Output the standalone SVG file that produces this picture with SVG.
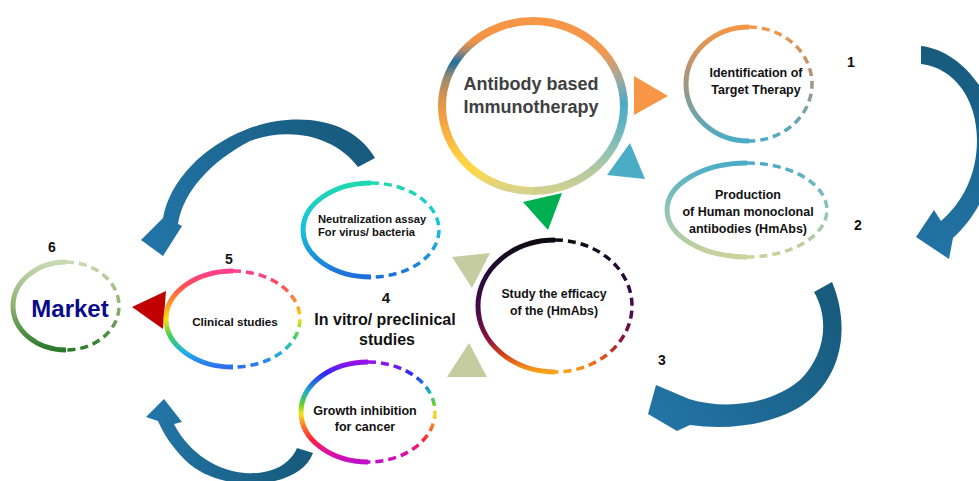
<svg xmlns="http://www.w3.org/2000/svg" width="979" height="481" viewBox="0 0 979 481">
  <style>
    .lbl{font-family:"Liberation Sans",Arial,sans-serif;font-weight:bold;fill:#111;text-anchor:middle}
    .num{font-family:"Liberation Sans",Arial,sans-serif;font-weight:bold;font-size:14px;fill:#111;text-anchor:middle}
    .solid{fill:none;stroke-width:5}
    .dash{fill:none;stroke-width:3.5;stroke-dasharray:8 5}
    .big{fill:none;stroke-width:8}
  </style>
  <defs>
    <!-- ring colour ramps, top to bottom -->
    <linearGradient id="gBigL" gradientUnits="userSpaceOnUse" x1="533" y1="21" x2="533" y2="191">
      <stop offset="0" stop-color="#F79646"/>
      <stop offset="0.12" stop-color="#F09348"/>
      <stop offset="0.18" stop-color="#A08870"/>
      <stop offset="0.24" stop-color="#1F6E9E"/>
      <stop offset="0.33" stop-color="#9A8A70"/>
      <stop offset="0.45" stop-color="#D8924E"/>
      <stop offset="0.58" stop-color="#F5A040"/>
      <stop offset="0.8" stop-color="#FFCF45"/>
      <stop offset="0.88" stop-color="#FFD84A"/>
      <stop offset="1" stop-color="#D6D38E"/>
    </linearGradient>
    <linearGradient id="gBigR" gradientUnits="userSpaceOnUse" x1="533" y1="21" x2="533" y2="191">
      <stop offset="0" stop-color="#F79646"/>
      <stop offset="0.18" stop-color="#F2984E"/>
      <stop offset="0.33" stop-color="#A8A89A"/>
      <stop offset="0.48" stop-color="#4BACC6"/>
      <stop offset="0.6" stop-color="#5FB2C4"/>
      <stop offset="0.78" stop-color="#98C4B0"/>
      <stop offset="1" stop-color="#D2D08E"/>
    </linearGradient>
    <linearGradient id="gId" gradientUnits="userSpaceOnUse" x1="0" y1="27" x2="0" y2="141">
      <stop offset="0" stop-color="#F79646"/>
      <stop offset="0.45" stop-color="#A8957C"/>
      <stop offset="1" stop-color="#4BACC6"/>
    </linearGradient>
    <linearGradient id="gProd" gradientUnits="userSpaceOnUse" x1="0" y1="163" x2="0" y2="257">
      <stop offset="0" stop-color="#4BACC6"/>
      <stop offset="0.5" stop-color="#8EC4B8"/>
      <stop offset="1" stop-color="#CAD39A"/>
    </linearGradient>
    <linearGradient id="gNeut" gradientUnits="userSpaceOnUse" x1="0" y1="183" x2="0" y2="277">
      <stop offset="0" stop-color="#20D8B0"/>
      <stop offset="0.5" stop-color="#18C0E0"/>
      <stop offset="1" stop-color="#1E6FD8"/>
    </linearGradient>
    <linearGradient id="gStudy" gradientUnits="userSpaceOnUse" x1="0" y1="240" x2="0" y2="372">
      <stop offset="0" stop-color="#0E0A12"/>
      <stop offset="0.3" stop-color="#2A0B3E"/>
      <stop offset="0.55" stop-color="#4A0D4A"/>
      <stop offset="0.75" stop-color="#8A1240"/>
      <stop offset="0.88" stop-color="#D9481A"/>
      <stop offset="1" stop-color="#F8A51A"/>
    </linearGradient>
    <linearGradient id="gClin" gradientUnits="userSpaceOnUse" x1="0" y1="271" x2="0" y2="367">
      <stop offset="0" stop-color="#FF3F8F"/>
      <stop offset="0.14" stop-color="#FF4A5A"/>
      <stop offset="0.35" stop-color="#FF9A20"/>
      <stop offset="0.5" stop-color="#F8E010"/>
      <stop offset="0.68" stop-color="#40D060"/>
      <stop offset="0.85" stop-color="#20B0E8"/>
      <stop offset="1" stop-color="#2F6FF0"/>
    </linearGradient>
    <linearGradient id="gGrow" gradientUnits="userSpaceOnUse" x1="0" y1="362" x2="0" y2="462">
      <stop offset="0" stop-color="#9A10E8"/>
      <stop offset="0.12" stop-color="#2A2AF8"/>
      <stop offset="0.3" stop-color="#20B0C0"/>
      <stop offset="0.42" stop-color="#60D030"/>
      <stop offset="0.52" stop-color="#F8E020"/>
      <stop offset="0.65" stop-color="#FF7020"/>
      <stop offset="0.78" stop-color="#FF2040"/>
      <stop offset="0.9" stop-color="#E010A0"/>
      <stop offset="1" stop-color="#C010C8"/>
    </linearGradient>
    <linearGradient id="gMkt" gradientUnits="userSpaceOnUse" x1="0" y1="262" x2="0" y2="350">
      <stop offset="0" stop-color="#C8DAB4"/>
      <stop offset="0.5" stop-color="#8FB070"/>
      <stop offset="1" stop-color="#2A7A2A"/>
    </linearGradient>
    <!-- curved arrow fills, dark at the tail -->
    <linearGradient id="aA" gradientUnits="userSpaceOnUse" x1="920" y1="46" x2="920" y2="257">
      <stop offset="0" stop-color="#175A7C"/>
      <stop offset="1" stop-color="#2274A6"/>
    </linearGradient>
    <linearGradient id="aB" gradientUnits="userSpaceOnUse" x1="830" y1="282" x2="652" y2="416">
      <stop offset="0" stop-color="#175A7C"/>
      <stop offset="1" stop-color="#2274A6"/>
    </linearGradient>
    <linearGradient id="aC" gradientUnits="userSpaceOnUse" x1="375" y1="158" x2="163" y2="253">
      <stop offset="0" stop-color="#175A7C"/>
      <stop offset="1" stop-color="#2274A6"/>
    </linearGradient>
    <linearGradient id="aD" gradientUnits="userSpaceOnUse" x1="313" y1="453" x2="165" y2="402">
      <stop offset="0" stop-color="#175A7C"/>
      <stop offset="1" stop-color="#2274A6"/>
    </linearGradient>
  </defs>

  <rect width="979" height="481" fill="#FFFFFF"/>

  <!-- connectors: curved arrows and pointer triangles -->
  <g id="connectors">
    <path fill="url(#aA)" d="M921,46 C960,50 997,95 996,140 C995,180 978,216 953,238 L949,259 L916,237 L934,210 L941,221 C962,203 977,175 977,140 C977,100 955,68 921,64 Z"/>
    <path fill="url(#aB)" d="M814,292 L832,282 C848,320 845,365 815,395 C790,420 740,432 690,425 L677,431 L648,414 L656,385 L689,399 C725,410 770,405 800,380 C825,355 830,320 814,292 Z"/>
    <path fill="url(#aC)" d="M358,167 L375,158 C350,115 290,112 245,130 C203,147 170,180 163,218 L141,240 L163,256 L182,226 L178,224 C183,192 210,162 250,141 C290,126 335,136 358,167 Z"/>
    <path fill="url(#aD)" d="M297,448 L313,453 C300,490 220,495 185,460 C172,447 163,433 158,421 L146,417 L164,399 L182,422 L174,424 C185,446 210,470 245,473 C270,475 290,465 297,448 Z"/>
    <polygon fill="#F79646" points="634,76 668,96 634,115"/>
    <polygon fill="#4BACC6" points="630,143 607,175 645,179"/>
    <polygon fill="#00B050" points="523,202 562,193 548,230"/>
    <polygon fill="#C5CDA0" points="452,257 490,253 472,288"/>
    <polygon fill="#C5CDA0" points="447,377 487,377 469,343"/>
    <polygon fill="#C00000" points="132,307 166,291 163,329"/>
  </g>

  <g id="node-immunotherapy">
    <path class="big" stroke="url(#gBigL)" d="M533,21 A91,85 0 0 0 533,191"/>
    <path class="big" stroke="url(#gBigR)" d="M533,21 A91,85 0 0 1 533,191"/>
    <text class="lbl" x="531" y="90" font-size="18" style="fill:#404040">Antibody based</text>
    <text class="lbl" x="531" y="113" font-size="18" style="fill:#404040">Immunotherapy</text>
  </g>

  <g id="node-identification">
    <path class="solid" stroke="url(#gId)" d="M749,27 A63,57 0 0 0 749,141"/>
    <path class="dash" stroke="url(#gId)" d="M749,27 A63,57 0 0 1 749,141"/>
    <text class="lbl" x="756" y="77" font-size="12.5">Identification of</text>
    <text class="lbl" x="756" y="94" font-size="12.5">Target Therapy</text>
  </g>

  <g id="node-production">
    <path class="solid" stroke="url(#gProd)" d="M747,163 A80,47 0 0 0 747,257"/>
    <path class="dash" stroke="url(#gProd)" d="M747,163 A80,47 0 0 1 747,257"/>
    <text class="lbl" x="748" y="199" font-size="12.5">Production</text>
    <text class="lbl" x="748" y="216" font-size="12.5">of Human monoclonal</text>
    <text class="lbl" x="748" y="233" font-size="12.5">antibodies (HmAbs)</text>
  </g>

  <g id="node-efficacy">
    <path class="solid" stroke="url(#gStudy)" d="M555,240 A77,66 0 0 0 555,372"/>
    <path class="dash" stroke="url(#gStudy)" d="M555,240 A77,66 0 0 1 555,372"/>
    <text class="lbl" x="554" y="298" font-size="12.3">Study the efficacy</text>
    <text class="lbl" x="554" y="315" font-size="12.3">of the (HmAbs)</text>
  </g>

  <g id="node-neutralization">
    <path class="solid" stroke="url(#gNeut)" d="M371,183 A68,47 0 0 0 371,277"/>
    <path class="dash" stroke="url(#gNeut)" d="M371,183 A68,47 0 0 1 371,277"/>
    <text class="lbl" x="318" y="223" font-size="11.2" style="text-anchor:start">Neutralization assay</text>
    <text class="lbl" x="318" y="236" font-size="11.2" style="text-anchor:start">For virus/ bacteria</text>
  </g>

  <g id="node-in-vitro">
    <text class="lbl" x="386" y="303" font-size="15">4</text>
    <text class="lbl" x="385" y="325" font-size="16">In vitro/ preclinical</text>
    <text class="lbl" x="387" y="345" font-size="16">studies</text>
  </g>

  <g id="node-growth">
    <path class="solid" stroke="url(#gGrow)" d="M368,362 A67,50 0 0 0 368,462"/>
    <path class="dash" stroke="url(#gGrow)" d="M368,362 A67,50 0 0 1 368,462"/>
    <text class="lbl" x="365" y="415" font-size="12.5">Growth inhibition</text>
    <text class="lbl" x="365" y="431" font-size="12.5">for cancer</text>
  </g>

  <g id="node-clinical">
    <path class="solid" stroke="url(#gClin)" d="M233,271 A67,48 0 0 0 233,367"/>
    <path class="dash" stroke="url(#gClin)" d="M233,271 A67,48 0 0 1 233,367"/>
    <text class="lbl" x="235" y="326" font-size="11.7">Clinical studies</text>
  </g>

  <g id="node-market">
    <path class="solid" stroke="url(#gMkt)" d="M66,262 A53,44 0 0 0 66,350"/>
    <path class="dash" stroke="url(#gMkt)" d="M66,262 A53,44 0 0 1 66,350"/>
    <text class="lbl" x="70" y="317" font-size="24" style="fill:#0A0A8A">Market</text>
  </g>

  <g id="step-numbers">
    <text class="num" x="851" y="67">1</text>
    <text class="num" x="858" y="230">2</text>
    <text class="num" x="662" y="365">3</text>
    <text class="num" x="229" y="264">5</text>
    <text class="num" x="52" y="252">6</text>
  </g>
</svg>
